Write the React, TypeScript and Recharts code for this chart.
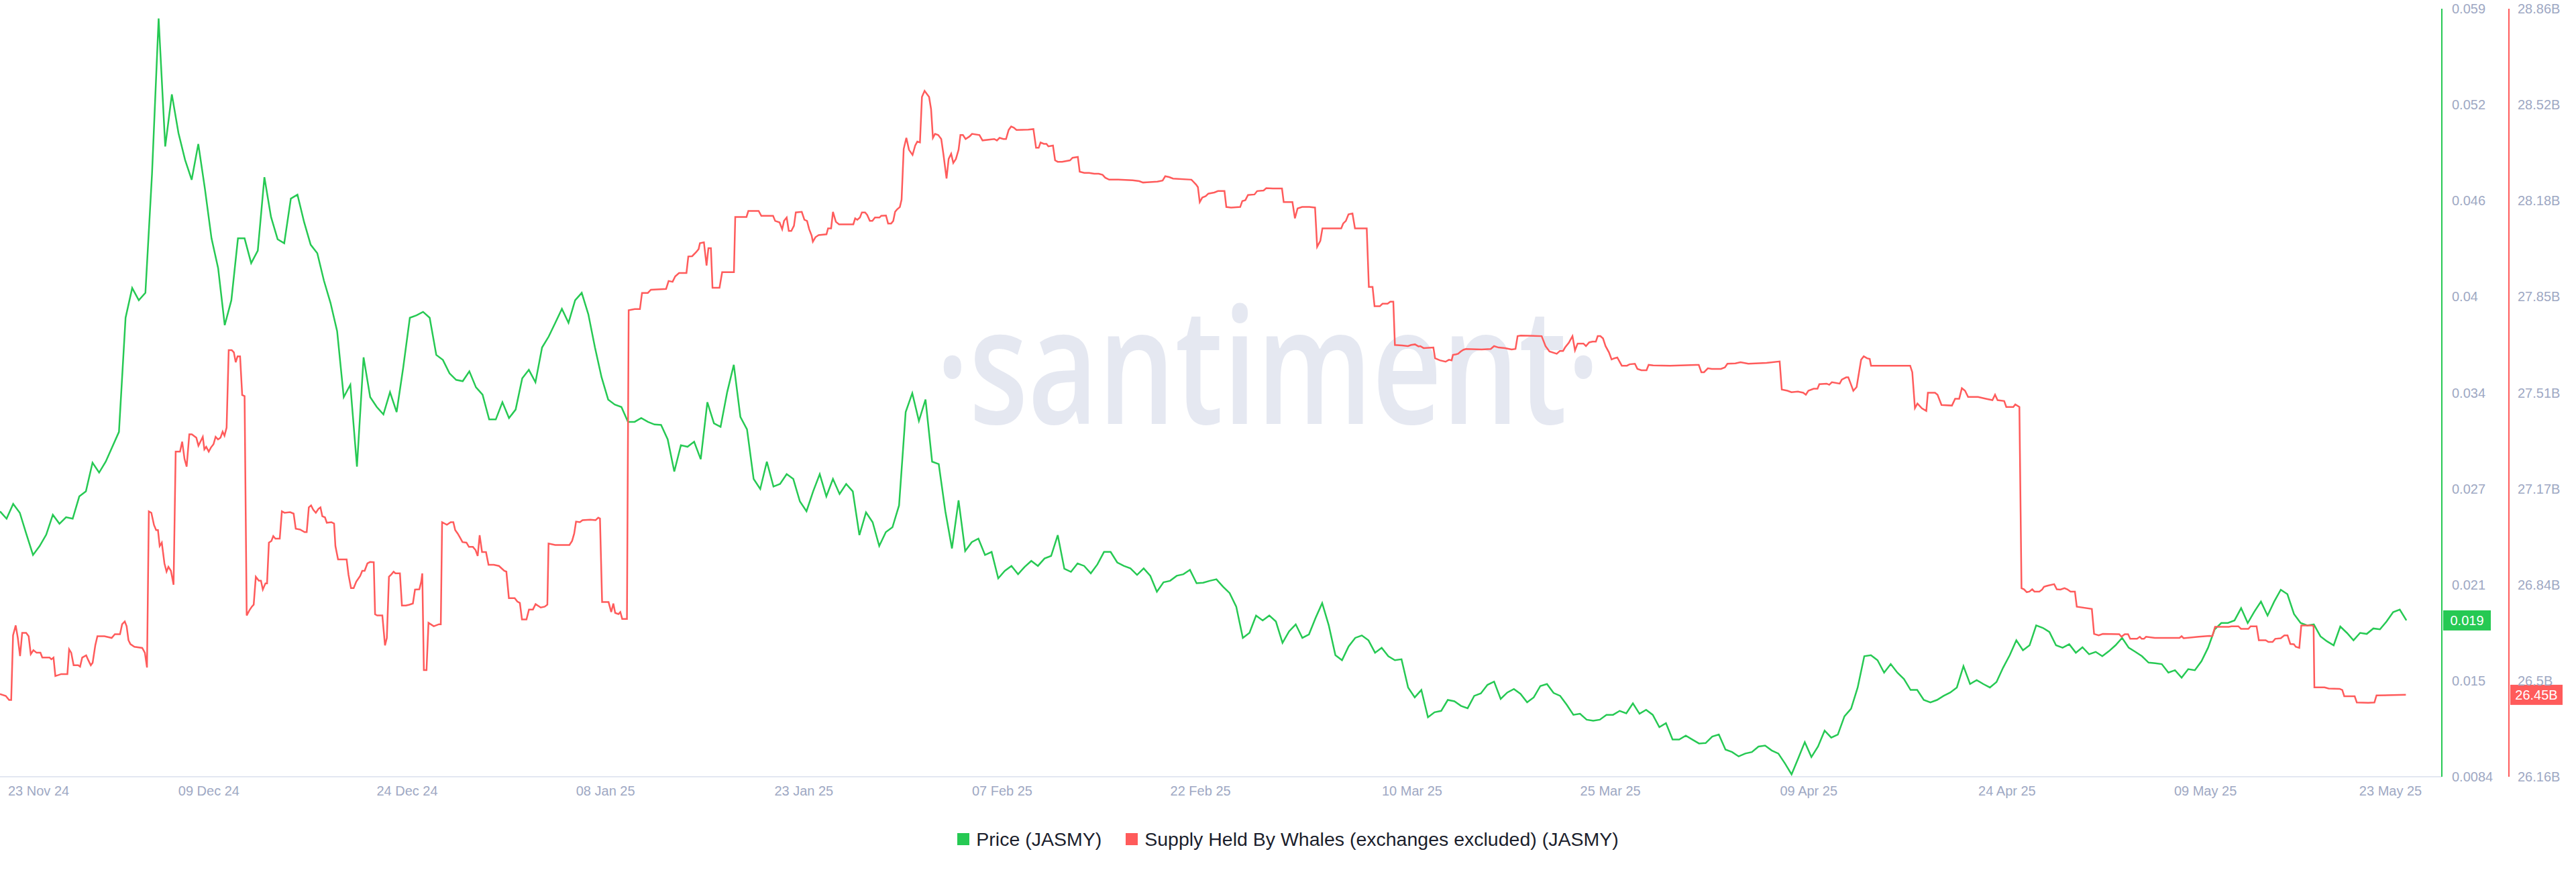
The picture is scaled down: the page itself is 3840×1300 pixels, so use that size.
import { LineChart, Line, XAxis, YAxis, ReferenceDot } from 'recharts';

// x values are days since 23 Nov 2024 00:00
const xDomain: [number, number] = [0.203, 184.88];
const xTickDays = [0.203, 16, 31, 46, 61, 76, 91, 107, 122, 137, 152, 167, 181];
const xTickLabels = [
  '23 Nov 24', '09 Dec 24', '24 Dec 24', '08 Jan 25', '23 Jan 25', '07 Feb 25', '22 Feb 25',
  '10 Mar 25', '25 Mar 25', '09 Apr 25', '24 Apr 25', '09 May 25', '23 May 25',
];

const priceTicks = [0.0084, 0.014725, 0.02105, 0.027375, 0.0337, 0.040025, 0.04635, 0.052675, 0.059];
const priceTickLabels = ['0.0084', '0.015', '0.021', '0.027', '0.034', '0.04', '0.046', '0.052', '0.059'];

const whaleTicks = [26.16, 26.4975, 26.835, 27.1725, 27.51, 27.8475, 28.185, 28.5225, 28.86];
const whaleTickLabels = ['26.16B', '26.5B', '26.84B', '27.17B', '27.51B', '27.85B', '28.18B', '28.52B', '28.86B'];

// price, one reading every 12 hours
const priceStartDay = 0.2;
const priceStepDays = 0.5;
const priceValues = [
  0.02589, 0.02540, 0.02638, 0.02579, 0.02438, 0.02301, 0.02360, 0.02435, 0.02566, 0.02507,
  0.02550, 0.02540, 0.02687, 0.02720, 0.02909, 0.02844, 0.02916, 0.03014, 0.03112, 0.03864,
  0.04060, 0.03979, 0.04028, 0.04812, 0.05836, 0.04992, 0.05336, 0.05081, 0.04904, 0.04773,
  0.05009, 0.04714, 0.04387, 0.04191, 0.03815, 0.03979, 0.04387, 0.04387, 0.04224, 0.04306,
  0.04790, 0.04528, 0.04381, 0.04355, 0.04649, 0.04675, 0.04495, 0.04345, 0.04289, 0.04109,
  0.03962, 0.03776, 0.03341, 0.03423, 0.02883, 0.03603, 0.03341, 0.03276, 0.03227, 0.03374,
  0.03243, 0.03537, 0.03864, 0.03880, 0.03903, 0.03864, 0.03619, 0.03586, 0.03498, 0.03455,
  0.03446, 0.03511, 0.03406, 0.03357, 0.03194, 0.03194, 0.03308, 0.03203, 0.03259, 0.03465,
  0.03521, 0.03439, 0.03668, 0.03740, 0.03831, 0.03923, 0.03831, 0.03979, 0.04028, 0.03887,
  0.03668, 0.03472, 0.03325, 0.03292, 0.03276, 0.03178, 0.03178, 0.03203, 0.03178, 0.03161,
  0.03158, 0.03063, 0.02851, 0.03024, 0.03014, 0.03047, 0.02932, 0.03308, 0.03168, 0.03145,
  0.03374, 0.03554, 0.03210, 0.03129, 0.02802, 0.02736, 0.02916, 0.02752, 0.02769, 0.02834,
  0.02802, 0.02654, 0.02589, 0.02720, 0.02834, 0.02687, 0.02802, 0.02703, 0.02769, 0.02720,
  0.02432, 0.02582, 0.02517, 0.02360, 0.02452, 0.02484, 0.02628, 0.03243, 0.03367, 0.03184,
  0.03325, 0.02916, 0.02900, 0.02589, 0.02344, 0.02661, 0.02327, 0.02386, 0.02409, 0.02301,
  0.02321, 0.02147, 0.02197, 0.02229, 0.02174, 0.02223, 0.02262, 0.02229, 0.02278, 0.02295,
  0.02432, 0.02210, 0.02190, 0.02245, 0.02229, 0.02180, 0.02239, 0.02321, 0.02321, 0.02252,
  0.02229, 0.02213, 0.02170, 0.02213, 0.02164, 0.02059, 0.02121, 0.02131, 0.02164, 0.02174,
  0.02203, 0.02115, 0.02118, 0.02131, 0.02141, 0.02092, 0.02050, 0.01961, 0.01755, 0.01788,
  0.01902, 0.01870, 0.01902, 0.01863, 0.01722, 0.01798, 0.01844, 0.01755, 0.01778, 0.01886,
  0.01984, 0.01837, 0.01641, 0.01608, 0.01699, 0.01755, 0.01771, 0.01739, 0.01657, 0.01690,
  0.01634, 0.01608, 0.01614, 0.01428, 0.01363, 0.01412, 0.01232, 0.01265, 0.01274, 0.01346,
  0.01337, 0.01307, 0.01291, 0.01373, 0.01389, 0.01445, 0.01467, 0.01353, 0.01395, 0.01418,
  0.01386, 0.01330, 0.01363, 0.01438, 0.01451, 0.01392, 0.01373, 0.01314, 0.01248, 0.01255,
  0.01216, 0.01209, 0.01216, 0.01248, 0.01248, 0.01274, 0.01258, 0.01324, 0.01255, 0.01281,
  0.01248, 0.01167, 0.01193, 0.01085, 0.01085, 0.01111, 0.01085, 0.01059, 0.01062, 0.01105,
  0.01118, 0.01019, 0.01003, 0.00974, 0.00993, 0.01003, 0.01039, 0.01045, 0.01013, 0.00993,
  0.00928, 0.00856, 0.00960, 0.01068, 0.00970, 0.01039, 0.01144, 0.01098, 0.01118, 0.01238,
  0.01288, 0.01428, 0.01634, 0.01641, 0.01608, 0.01526, 0.01582, 0.01526, 0.01484, 0.01412,
  0.01412, 0.01346, 0.01330, 0.01346, 0.01373, 0.01395, 0.01428, 0.01569, 0.01451, 0.01477,
  0.01451, 0.01428, 0.01464, 0.01559, 0.01641, 0.01739, 0.01673, 0.01706, 0.01837, 0.01821,
  0.01794, 0.01706, 0.01690, 0.01713, 0.01657, 0.01693, 0.01647, 0.01663, 0.01634, 0.01667,
  0.01706, 0.01755, 0.01690, 0.01663, 0.01634, 0.01592, 0.01588, 0.01582, 0.01526, 0.01542,
  0.01493, 0.01549, 0.01542, 0.01601, 0.01690, 0.01811, 0.01853, 0.01853, 0.01870, 0.01951,
  0.01853, 0.01928, 0.01994, 0.01902, 0.01994, 0.02072, 0.02043, 0.01912, 0.01853, 0.01837,
  0.01844, 0.01765, 0.01732, 0.01706, 0.01830, 0.01788, 0.01739, 0.01788, 0.01781, 0.01817,
  0.01811, 0.01863, 0.01925, 0.01941, 0.01870,
];

// supply held by whales, billions: [day, value]
const whalePoints: [number, number][] = [
  [0.20, 26.451], [0.64, 26.444], [0.89, 26.430], [1.05, 26.430], [1.19, 26.657], [1.39, 26.692], [1.55, 26.648],
  [1.72, 26.584], [1.88, 26.666], [2.18, 26.666], [2.37, 26.654], [2.53, 26.591], [2.73, 26.605], [2.97, 26.596],
  [3.26, 26.596], [3.40, 26.579], [3.95, 26.579], [4.09, 26.573], [4.25, 26.579], [4.39, 26.514], [4.84, 26.521],
  [5.30, 26.521], [5.43, 26.608], [5.59, 26.596], [5.77, 26.552], [6.12, 26.552], [6.26, 26.547], [6.42, 26.579],
  [6.72, 26.587], [6.88, 26.570], [7.07, 26.552], [7.21, 26.561], [7.41, 26.622], [7.57, 26.654], [8.10, 26.654],
  [8.65, 26.648], [8.89, 26.661], [9.28, 26.661], [9.44, 26.696], [9.64, 26.706], [9.78, 26.689], [9.92, 26.640],
  [10.07, 26.626], [10.37, 26.617], [10.96, 26.613], [11.16, 26.596], [11.32, 26.544], [11.46, 27.093], [11.65, 27.088],
  [11.85, 27.045], [12.01, 27.027], [12.15, 27.027], [12.28, 26.971], [12.44, 26.983], [12.64, 26.910], [12.80, 26.881],
  [12.94, 26.898], [13.13, 26.884], [13.33, 26.835], [13.49, 27.303], [13.82, 27.303], [13.98, 27.338], [14.16, 27.277],
  [14.32, 27.250], [14.52, 27.364], [14.71, 27.364], [15.05, 27.352], [15.21, 27.324], [15.36, 27.338], [15.54, 27.355],
  [15.66, 27.311], [15.80, 27.320], [15.99, 27.303], [16.15, 27.317], [16.35, 27.329], [16.51, 27.355], [16.69, 27.346],
  [16.88, 27.352], [17.04, 27.373], [17.18, 27.359], [17.34, 27.387], [17.50, 27.660], [17.73, 27.660], [17.89, 27.652],
  [18.03, 27.617], [18.17, 27.638], [18.36, 27.638], [18.52, 27.502], [18.70, 27.498], [18.86, 26.727], [19.05, 26.744],
  [19.25, 26.758], [19.39, 26.765], [19.55, 26.863], [19.78, 26.849], [19.94, 26.849], [20.08, 26.818], [20.28, 26.840],
  [20.40, 26.840], [20.54, 26.983], [20.73, 26.989], [20.87, 27.006], [21.03, 26.997], [21.36, 26.997], [21.52, 27.093],
  [21.72, 27.088], [22.15, 27.090], [22.41, 27.085], [22.57, 27.032], [22.90, 27.029], [23.24, 27.020], [23.40, 27.020],
  [23.56, 27.107], [23.73, 27.114], [23.89, 27.099], [24.09, 27.088], [24.29, 27.102], [24.44, 27.107], [24.58, 27.076],
  [24.78, 27.072], [24.92, 27.053], [25.27, 27.055], [25.47, 27.050], [25.57, 26.971], [25.77, 26.924], [26.42, 26.924],
  [26.56, 26.870], [26.75, 26.823], [26.95, 26.823], [27.15, 26.846], [27.44, 26.866], [27.60, 26.884], [27.78, 26.884],
  [27.99, 26.910], [28.19, 26.915], [28.47, 26.914], [28.57, 26.731], [28.73, 26.727], [29.12, 26.727], [29.32, 26.622],
  [29.46, 26.648], [29.62, 26.863], [29.81, 26.872], [29.97, 26.881], [30.11, 26.875], [30.45, 26.875], [30.60, 26.762],
  [30.90, 26.762], [31.16, 26.765],
  [31.43, 26.769], [31.59, 26.818], [31.92, 26.819], [32.06, 26.846], [32.14, 26.875], [32.26, 26.535], [32.46, 26.535],
  [32.61, 26.701], [33.01, 26.689], [33.40, 26.696], [33.54, 26.696], [33.64, 27.055], [34.00, 27.046], [34.29, 27.055],
  [34.49, 27.055], [34.63, 27.027], [34.82, 27.015], [34.98, 27.002], [35.18, 26.985], [35.48, 26.983], [35.67, 26.968],
  [35.97, 26.968], [36.17, 26.957], [36.33, 26.936], [36.48, 27.009], [36.66, 26.950], [36.96, 26.950], [37.15, 26.905],
  [37.55, 26.905], [37.94, 26.901], [38.34, 26.884], [38.50, 26.881], [38.69, 26.788], [39.13, 26.788], [39.33, 26.776],
  [39.52, 26.771], [39.68, 26.713], [40.02, 26.713], [40.21, 26.748], [40.51, 26.748], [40.71, 26.767], [41.10, 26.755],
  [41.40, 26.758], [41.60, 26.765], [41.69, 26.980], [42.19, 26.975], [42.88, 26.975], [43.27, 26.975], [43.47, 26.989],
  [43.63, 27.015], [43.77, 27.057], [44.06, 27.055], [44.26, 27.062], [44.85, 27.064], [45.25, 27.062], [45.45, 27.071],
  [45.58, 27.068], [45.74, 26.774], [46.23, 26.774], [46.43, 26.739], [46.59, 26.769], [46.73, 26.736], [46.98, 26.732],
  [47.12, 26.739], [47.26, 26.715], [47.62, 26.715], [47.75, 27.800], [48.21, 27.804], [48.60, 27.804], [48.76, 27.861],
  [49.20, 27.861], [49.43, 27.872], [50.58, 27.875], [50.77, 27.903], [51.07, 27.900], [51.27, 27.919], [51.56, 27.931],
  [52.12, 27.931], [52.26, 27.989], [52.55, 27.990], [52.85, 28.004], [53.04, 28.015], [53.14, 28.036], [53.44, 28.039],
  [53.64, 27.957], [53.78, 28.018], [53.97, 28.018], [54.09, 27.879], [54.62, 27.879], [54.82, 27.934], [55.71, 27.934],
  [55.81, 28.128], [56.66, 28.128], [56.80, 28.149], [57.58, 28.149], [57.78, 28.132], [58.67, 28.132], [58.83, 28.114],
  [59.16, 28.109], [59.36, 28.085], [59.50, 28.114], [59.70, 28.126], [59.86, 28.079], [60.05, 28.079], [60.25, 28.097],
  [60.39, 28.144], [60.84, 28.146], [61.04, 28.118], [61.24, 28.114], [61.40, 28.085], [61.59, 28.062], [61.68, 28.041],
  [61.88, 28.057], [62.12, 28.064], [62.71, 28.067], [62.83, 28.088], [63.06, 28.088], [63.20, 28.146], [63.42, 28.111],
  [63.66, 28.102], [64.74, 28.102], [64.88, 28.123], [65.04, 28.118], [65.24, 28.126], [65.39, 28.144], [65.63, 28.144],
  [65.79, 28.135], [65.99, 28.114], [66.18, 28.114], [66.38, 28.126], [66.72, 28.126], [66.85, 28.132], [67.21, 28.133],
  [67.37, 28.105], [67.60, 28.105], [67.76, 28.114], [67.90, 28.146], [68.04, 28.154], [68.26, 28.163], [68.39, 28.189],
  [68.55, 28.367], [68.75, 28.406], [68.95, 28.364], [69.22, 28.346], [69.42, 28.379], [69.58, 28.393], [69.78, 28.390],
  [69.93, 28.550], [70.13, 28.571], [70.47, 28.550], [70.62, 28.507], [70.76, 28.406], [70.92, 28.420], [71.16, 28.416],
  [71.39, 28.402], [71.55, 28.350], [71.79, 28.263], [71.95, 28.332], [72.14, 28.350], [72.30, 28.318], [72.50, 28.332],
  [72.70, 28.364], [72.84, 28.416], [73.03, 28.416], [73.23, 28.402], [73.53, 28.411], [73.72, 28.420], [74.28, 28.416],
  [74.51, 28.397], [75.40, 28.402], [75.60, 28.397], [75.80, 28.406], [76.09, 28.402], [76.29, 28.402], [76.49, 28.434],
  [76.68, 28.446], [76.88, 28.442], [77.08, 28.434], [77.97, 28.435], [78.36, 28.437], [78.56, 28.371], [78.76, 28.371],
  [78.90, 28.390], [79.15, 28.385], [79.35, 28.385], [79.49, 28.376], [79.84, 28.379], [80.00, 28.327], [80.20, 28.322],
  [80.53, 28.322], [81.13, 28.327], [81.32, 28.336], [81.72, 28.339], [81.86, 28.287], [82.21, 28.283], [82.57, 28.283],
  [82.96, 28.280], [83.30, 28.280], [83.59, 28.276], [83.79, 28.266], [84.09, 28.259], [84.78, 28.259], [85.86, 28.257],
  [86.36, 28.254], [86.65, 28.249], [86.95, 28.250], [87.74, 28.252], [88.13, 28.256], [88.33, 28.271], [88.63, 28.268],
  [88.92, 28.263], [90.31, 28.259], [90.66, 28.242], [90.80, 28.233], [90.94, 28.180], [91.13, 28.196], [91.39, 28.201],
  [91.59, 28.210], [92.04, 28.214], [92.32, 28.219], [92.81, 28.219], [92.95, 28.163], [93.31, 28.161], [94.00, 28.163],
  [94.16, 28.184], [94.39, 28.187], [94.59, 28.205], [95.08, 28.207], [95.28, 28.219], [95.77, 28.221], [95.97, 28.229],
  [96.47, 28.228], [97.16, 28.228], [97.29, 28.180], [97.95, 28.180], [98.14, 28.123], [98.34, 28.158], [98.68, 28.163],
  [99.23, 28.163], [99.66, 28.161], [99.82, 28.023], [100.06, 28.044], [100.22, 28.088], [101.64, 28.088], [101.79, 28.105],
  [101.99, 28.114], [102.19, 28.137], [102.49, 28.140], [102.68, 28.088], [103.57, 28.088], [103.73, 27.882], [104.01, 27.882],
  [104.16, 27.814], [104.56, 27.814], [104.76, 27.823], [105.15, 27.823], [105.35, 27.830], [105.58, 27.830], [105.70, 27.678],
  [106.24, 27.676], [106.69, 27.674], [106.93, 27.678], [107.22, 27.680], [107.48, 27.673], [107.62, 27.674], [107.87, 27.667],
  [108.61, 27.669], [108.74, 27.631], [109.10, 27.624], [109.53, 27.619], [109.79, 27.626], [109.99, 27.624], [110.09, 27.643],
  [110.32, 27.645], [110.48, 27.647], [110.68, 27.655], [110.88, 27.661], [111.07, 27.664], [112.26, 27.662], [112.95, 27.664],
  [113.20, 27.674], [113.54, 27.669], [114.03, 27.667], [114.53, 27.662], [114.82, 27.664], [114.98, 27.709], [115.22, 27.711],
  [116.80, 27.709], [117.09, 27.674], [117.39, 27.655], [117.94, 27.647], [118.18, 27.657], [118.42, 27.657], [118.57, 27.669],
  [118.87, 27.687], [119.13, 27.709], [119.32, 27.659], [119.52, 27.683], [119.96, 27.683], [120.15, 27.674], [120.39, 27.687],
  [120.65, 27.690], [120.90, 27.690], [121.04, 27.709], [121.24, 27.709], [121.44, 27.701], [121.63, 27.674], [121.89, 27.652],
  [122.09, 27.627], [122.29, 27.631], [122.52, 27.634], [122.86, 27.605], [123.25, 27.605], [123.45, 27.610], [123.85, 27.612],
  [124.04, 27.594], [124.34, 27.589], [124.73, 27.589], [124.89, 27.608], [125.23, 27.606], [126.51, 27.605], [128.48, 27.608],
  [128.68, 27.608], [128.88, 27.582], [129.08, 27.582], [129.37, 27.596], [129.67, 27.594], [130.36, 27.594], [130.66, 27.599],
  [130.85, 27.612], [131.45, 27.613], [131.84, 27.617], [132.43, 27.612], [133.81, 27.615], [134.80, 27.620], [134.96, 27.521],
  [135.39, 27.517], [135.69, 27.512], [136.18, 27.514], [136.58, 27.510], [136.78, 27.503], [136.97, 27.517], [137.37, 27.524],
  [137.66, 27.524], [137.80, 27.540], [138.35, 27.542], [138.55, 27.538], [138.75, 27.547], [139.34, 27.542], [139.50, 27.556],
  [139.83, 27.564], [139.99, 27.564], [140.17, 27.542], [140.37, 27.517], [140.62, 27.530], [140.96, 27.626], [141.16, 27.638],
  [141.41, 27.631], [141.61, 27.629], [141.71, 27.605], [144.67, 27.605], [144.83, 27.582], [145.03, 27.456], [145.22, 27.472],
  [145.56, 27.455], [145.89, 27.446], [146.01, 27.510], [146.55, 27.510], [146.74, 27.503], [147.04, 27.467], [147.83, 27.465],
  [148.07, 27.489], [148.38, 27.489], [148.58, 27.526], [148.82, 27.517], [149.05, 27.495], [149.80, 27.495], [150.40, 27.489],
  [150.89, 27.484], [151.09, 27.503], [151.28, 27.484], [151.78, 27.481], [151.94, 27.460], [152.47, 27.460], [152.62, 27.469],
  [152.93, 27.460], [153.09, 26.823], [153.28, 26.819], [153.49, 26.809], [153.69, 26.811], [153.90, 26.819], [154.07, 26.811],
  [154.44, 26.811], [154.65, 26.818], [154.79, 26.828], [155.10, 26.832], [155.56, 26.837], [155.76, 26.819], [156.03, 26.818],
  [156.34, 26.823], [156.55, 26.819], [156.80, 26.811], [157.13, 26.811], [157.27, 26.758], [158.41, 26.750], [158.58, 26.662],
  [158.93, 26.657], [159.24, 26.662], [160.48, 26.661], [160.65, 26.652], [160.90, 26.661], [161.15, 26.661], [161.31, 26.645],
  [161.83, 26.645], [162.04, 26.652], [162.18, 26.645], [162.35, 26.645], [162.51, 26.652], [163.17, 26.648], [165.04, 26.648],
  [165.20, 26.654], [165.35, 26.647], [166.49, 26.652], [167.31, 26.655], [167.52, 26.654], [167.73, 26.687], [168.76, 26.687],
  [168.97, 26.689], [169.49, 26.689], [169.69, 26.680], [170.25, 26.680], [170.42, 26.689], [170.87, 26.689], [171.04, 26.640],
  [171.56, 26.640], [171.76, 26.634], [172.08, 26.634], [172.28, 26.645], [172.70, 26.647], [172.97, 26.657], [173.21, 26.657],
  [173.42, 26.627], [173.69, 26.626], [173.83, 26.617], [174.10, 26.613], [174.25, 26.692], [175.08, 26.692], [175.18, 26.689],
  [175.24, 26.474], [176.01, 26.474], [176.32, 26.470], [177.15, 26.469], [177.35, 26.465], [177.50, 26.443], [178.29, 26.443],
  [178.45, 26.421], [179.32, 26.420], [179.78, 26.421], [179.94, 26.446], [182.16, 26.448],
];

const GREEN = '#26c953';
const RED = '#ff5b5b';
const TICK_COLOR = '#9ea8c3';
const FONT = '"Liberation Sans", Arial, sans-serif';

const priceData = priceValues.map((price, i) => ({ day: priceStartDay + i * priceStepDays, price }));
const whaleData = whalePoints.map(([day, whales]) => ({ day, whales }));
const lastPrice = priceValues[priceValues.length - 1];
const lastWhales = whalePoints[whalePoints.length - 1][1];

const DateTick = (props: any) => {
  const { x, y, payload } = props;
  const idx = xTickDays.indexOf(payload.value);
  const first = idx === 0;
  return (
    <text
      x={first ? x + 12 : x}
      y={y}
      dy="0.71em"
      textAnchor={first ? 'start' : 'middle'}
      fill={TICK_COLOR}
      fontSize={20}
      fontFamily={FONT}
    >
      {xTickLabels[idx]}
    </text>
  );
};

const makeValueTick = (ticks: number[], labels: string[]) => (props: any) => {
  const { x, y, payload } = props;
  return (
    <text x={x} y={y} dy="0.355em" textAnchor="start" fill={TICK_COLOR} fontSize={20} fontFamily={FONT}>
      {labels[ticks.indexOf(payload.value)]}
    </text>
  );
};

const PriceTick = makeValueTick(priceTicks, priceTickLabels);
const WhaleTick = makeValueTick(whaleTicks, whaleTickLabels);

const chip = (text: string, color: string, offset: number, width: number) => (props: any) => {
  const { cx, cy } = props;
  return (
    <g>
      <rect x={cx + offset} y={cy - 15} width={width} height={30} fill={color} />
      <text
        x={cx + offset + width / 2}
        y={cy}
        dy="0.355em"
        textAnchor="middle"
        fill="#ffffff"
        fontSize={20}
        fontFamily={FONT}
      >
        {text}
      </text>
    </g>
  );
};

export default function App() {
  return (
    <div
      style={{
        position: 'absolute',
        left: 0,
        top: 0,
        width: 3840,
        height: 1300,
        background: '#ffffff',
        fontFamily: FONT,
        overflow: 'hidden',
      }}
    >
      <svg width={3840} height={1200} style={{ position: 'absolute', left: 0, top: 0 }}>
        <text
          x={1395}
          y={632}
          fontFamily='"Open Sans", sans-serif'
          fontWeight={600}
          fontSize={242}
          fill="#e5e8f1"
          textLength={990}
          lengthAdjust="spacingAndGlyphs"
        >
          ·santiment·
        </text>
      </svg>

      <div style={{ position: 'absolute', left: 0, top: 0 }}>
        <LineChart width={3840} height={1200} margin={{ top: 13, right: 0, bottom: 0, left: 0 }}>
          <XAxis
            type="number"
            dataKey="day"
            domain={xDomain}
            allowDataOverflow
            ticks={xTickDays}
            interval={0}
            height={42}
            tickSize={0}
            tickMargin={14}
            tickLine={false}
            axisLine={{ stroke: '#e3e7f1', strokeWidth: 2 }}
            tick={<DateTick />}
          />
          <YAxis
            yAxisId="price"
            orientation="right"
            width={100}
            type="number"
            domain={[0.0084, 0.059]}
            allowDataOverflow
            ticks={priceTicks}
            interval={0}
            tickSize={0}
            tickMargin={15}
            tickLine={false}
            axisLine={{ stroke: GREEN, strokeWidth: 2 }}
            tick={<PriceTick />}
          />
          <YAxis
            yAxisId="whales"
            orientation="right"
            width={100}
            type="number"
            domain={[26.16, 28.86]}
            allowDataOverflow
            ticks={whaleTicks}
            interval={0}
            tickSize={0}
            tickMargin={13}
            tickLine={false}
            axisLine={{ stroke: RED, strokeWidth: 2 }}
            tick={<WhaleTick />}
          />
          <Line
            data={priceData}
            yAxisId="price"
            dataKey="price"
            name="Price (JASMY)"
            type="linear"
            stroke={GREEN}
            strokeWidth={2.5}
            dot={false}
            activeDot={false}
            isAnimationActive={false}
          />
          <Line
            data={whaleData}
            yAxisId="whales"
            dataKey="whales"
            name="Supply Held By Whales (exchanges excluded) (JASMY)"
            type="linear"
            stroke={RED}
            strokeWidth={2.5}
            dot={false}
            activeDot={false}
            isAnimationActive={false}
          />
          <ReferenceDot
            yAxisId="price"
            x={xDomain[1]}
            y={lastPrice}
            ifOverflow="visible"
            shape={chip(lastPrice.toFixed(3), GREEN, 2, 71)}
          />
          <ReferenceDot
            yAxisId="whales"
            x={xDomain[1]}
            y={lastWhales}
            ifOverflow="visible"
            shape={chip(`${lastWhales.toFixed(2)}B`, RED, 102, 78)}
          />
        </LineChart>
      </div>

      <div
        style={{
          position: 'absolute',
          left: 0,
          top: 1236,
          width: 3840,
          height: 30,
          display: 'flex',
          justifyContent: 'center',
          alignItems: 'center',
          gap: 36,
          fontSize: 28.5,
          lineHeight: '30px',
          color: '#1b1e2c',
        }}
      >
        <span style={{ display: 'flex', alignItems: 'center' }}>
          <span style={{ width: 18, height: 18, background: GREEN, marginRight: 10, display: 'inline-block' }} />
          Price (JASMY)
        </span>
        <span style={{ display: 'flex', alignItems: 'center' }}>
          <span style={{ width: 18, height: 18, background: RED, marginRight: 10, display: 'inline-block' }} />
          Supply Held By Whales (exchanges excluded) (JASMY)
        </span>
      </div>
    </div>
  );
}
